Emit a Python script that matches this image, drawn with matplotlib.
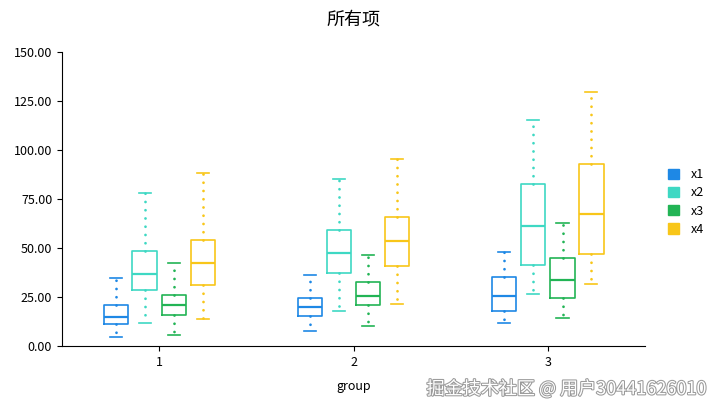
import numpy as np
import matplotlib.pyplot as plt
import matplotlib.patheffects as pe
from matplotlib.patches import Patch

plt.rcParams['font.family'] = ['Noto Sans CJK SC', 'DejaVu Sans']

groups = ['1', '2', '3']
series = ['x1', 'x2', 'x3', 'x4']
colors = ['#1e88e5', '#3ed8c3', '#22b455', '#f8c619']

# box stats: [low whisker, q1, median, q3, high whisker] per group
x1_stats = [[4.6, 11.4, 15.0, 20.9, 34.5], [7.7, 15.1, 19.7, 24.7, 36.1], [11.9, 17.9, 25.4, 35.0, 48.1]]
x2_stats = [[11.9, 28.4, 36.9, 48.3, 78.2], [17.7, 37.2, 47.4, 59.2, 85.4], [26.7, 41.5, 61.2, 82.8, 115.3]]
x3_stats = [[5.8, 15.7, 20.8, 26.2, 42.5], [10.4, 20.9, 25.5, 32.8, 46.6], [14.4, 24.3, 33.7, 45.1, 62.9]]
x4_stats = [[13.6, 31.3, 42.2, 54.1, 88.1], [21.4, 40.8, 53.4, 66.0, 95.6], [31.6, 46.9, 67.3, 92.9, 129.7]]
all_stats = [x1_stats, x2_stats, x3_stats, x4_stats]

fig = plt.figure(figsize=(7.2, 4.12), dpi=100)
ax = fig.add_axes([0.086, 0.160, 0.810, 0.714])

offsets = [-0.224, -0.075, 0.075, 0.224]
width = 0.124
base = np.arange(1, len(groups) + 1)

for stats, off, col in zip(all_stats, offsets, colors):
    boxes = []
    for s in stats:
        boxes.append({'whislo': s[0], 'q1': s[1], 'med': s[2], 'q3': s[3], 'whishi': s[4], 'fliers': []})
    ax.bxp(boxes, positions=base + off, widths=width, capwidths=width * 0.5,
           showfliers=False, manage_ticks=False,
           boxprops=dict(color=col, linewidth=1.2),
           medianprops=dict(color=col, linewidth=1.6),
           whiskerprops=dict(color=col, linewidth=2.0, linestyle=(0, (0.01, 2.96)), dash_capstyle='round'),
           capprops=dict(color=col, linewidth=1.2))

ax.set_xlim(0.5, 3.5)
ax.set_ylim(0, 150)
ax.set_xticks(base)
ax.set_xticklabels(groups, fontsize=9)
ax.set_yticks(np.arange(0, 151, 25))
ax.set_yticklabels(['%.2f' % v for v in np.arange(0, 151, 25)], fontsize=9)
ax.spines['top'].set_visible(False)
ax.spines['right'].set_visible(False)
ax.set_xlabel('group', fontsize=9, labelpad=8)
ax.set_title('所有项', fontsize=13, fontweight='medium', pad=20)

handles = [Patch(facecolor=c, edgecolor=c, label=s) for s, c in zip(series, colors)]
ax.legend(handles=handles, loc='center left', bbox_to_anchor=(1.02, 0.49), frameon=False,
          fontsize=9, handlelength=0.9, handleheight=0.9, handletextpad=0.9, labelspacing=0.42)

fig.text(0.98, 0.056, '掘金技术社区 @ 用户30441626010', ha='right', va='center', fontsize=13,
         color='white', path_effects=[pe.withStroke(linewidth=1.5, foreground='#9a9a9a')])

fig.savefig('out.png', dpi=100)
